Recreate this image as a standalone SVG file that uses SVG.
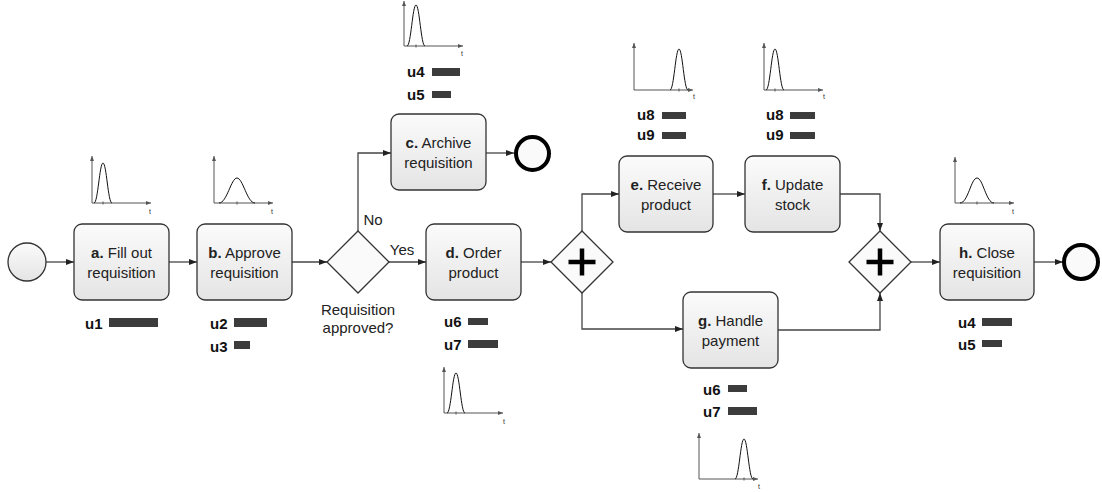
<svg xmlns="http://www.w3.org/2000/svg" width="1102" height="493" viewBox="0 0 1102 493">
<defs>
<linearGradient id="tg" x1="0" y1="0" x2="0" y2="1">
<stop offset="0" stop-color="#fbfbfb"/>
<stop offset="1" stop-color="#e4e4e4"/>
</linearGradient>
<marker id="arr" markerUnits="userSpaceOnUse" markerWidth="8" markerHeight="8" refX="8" refY="4" orient="auto">
<path d="M0,1 L8,4 L0,7 z" fill="#222"/>
</marker>
<marker id="am" markerUnits="userSpaceOnUse" markerWidth="5" markerHeight="5" refX="5" refY="2.5" orient="auto">
<path d="M0,0.5 L5,2.5 L0,4.5 z" fill="#555"/>
</marker>
</defs>
<style>
.task{fill:url(#tg);stroke:#333;stroke-width:1.3}
.gw{fill:#fafafa;stroke:#333;stroke-width:1.3}
.start{fill:url(#tg);stroke:#333;stroke-width:1.3}
.end{fill:#fafafa;stroke:#000;stroke-width:4}
.plus{stroke:#000;stroke-width:4.5}
.flow{fill:none;stroke:#444;stroke-width:1.3}
.lbl{font-family:"Liberation Sans",Arial,sans-serif;font-size:15px;fill:#222;text-anchor:middle}
.b{font-weight:bold}
.u{font-family:"Liberation Sans",Arial,sans-serif;font-size:15px;font-weight:bold;fill:#111}
.bar{fill:#3c3c3c}
.ax{stroke:#555;stroke-width:1;fill:none}
.cv{stroke:#111;stroke-width:1;fill:none}
.tk{stroke:#555;stroke-width:1}
.t{font-family:"Liberation Sans",Arial,sans-serif;font-size:7px;fill:#333}
</style>

<g id="connectors">
<path class="flow" d="M46,262 H74" marker-end="url(#arr)"/>
<path class="flow" d="M169,262 H197" marker-end="url(#arr)"/>
<path class="flow" d="M292,262 H327" marker-end="url(#arr)"/>
<path class="flow" d="M358,231 V153 H391" marker-end="url(#arr)"/>
<path class="flow" d="M389,262 H426" marker-end="url(#arr)"/>
<path class="flow" d="M486,153 H514" marker-end="url(#arr)"/>
<path class="flow" d="M521,262 H551" marker-end="url(#arr)"/>
<path class="flow" d="M582,231 V194 H619" marker-end="url(#arr)"/>
<path class="flow" d="M582,293 V329 H683" marker-end="url(#arr)"/>
<path class="flow" d="M713,194 H745" marker-end="url(#arr)"/>
<path class="flow" d="M840,194 H880 V231" marker-end="url(#arr)"/>
<path class="flow" d="M777,330 H880 V293" marker-end="url(#arr)"/>
<path class="flow" d="M911,262 H940" marker-end="url(#arr)"/>
<path class="flow" d="M1034,262 H1063" marker-end="url(#arr)"/>
<text class="lbl" x="373" y="225">No</text>
<text class="lbl" x="402" y="255">Yes</text>
</g>

<g id="start">
<circle class="start" cx="27" cy="262" r="19"/>
</g>

<g id="task-a">
<rect class="task" x="74" y="224" width="95" height="76" rx="8"/>
<text class="lbl" x="121.5" y="258"><tspan class="b">a.</tspan> Fill out</text>
<text class="lbl" x="121.5" y="278">requisition</text>
<text class="u" x="85" y="329">u1</text>
<rect class="bar" x="109" y="318" width="49" height="9"/>
<g transform="translate(92,203)">
<path class="ax" d="M0,0 V-47" marker-end="url(#am)"/>
<path class="ax" d="M0,0 H59" marker-end="url(#am)"/>
<path class="tk" d="M11,-1.5 V1.5"/>
<path class="cv" d="M2,0 C6,0 7.5,-40 11,-40 C14.5,-40 16,0 20,0"/>
<text class="t" x="57" y="11">t</text>
</g>
</g>

<g id="task-b">
<rect class="task" x="197" y="224" width="95" height="76" rx="8"/>
<text class="lbl" x="244.5" y="258"><tspan class="b">b.</tspan> Approve</text>
<text class="lbl" x="244.5" y="278">requisition</text>
<text class="u" x="210" y="329">u2</text>
<rect class="bar" x="234" y="318" width="33" height="9"/>
<text class="u" x="210" y="352">u3</text>
<rect class="bar" x="234" y="341" width="16" height="8"/>
<g transform="translate(214,203)">
<path class="ax" d="M0,0 V-47" marker-end="url(#am)"/>
<path class="ax" d="M0,0 H59" marker-end="url(#am)"/>
<path class="tk" d="M23,-1.5 V1.5"/>
<path class="cv" d="M5,0 C13,0 17,-25 23,-25 C29,-25 33,0 41,0"/>
<text class="t" x="57" y="11">t</text>
</g>
</g>

<g id="gateway-approved">
<path class="gw" d="M358,231 L389,262 L358,293 L327,262 Z"/>
<text class="lbl" x="358" y="315">Requisition</text>
<text class="lbl" x="358" y="333">approved?</text>
</g>

<g id="task-c">
<rect class="task" x="391" y="114" width="95" height="76" rx="8"/>
<text class="lbl" x="438.5" y="148"><tspan class="b">c.</tspan> Archive</text>
<text class="lbl" x="438.5" y="168">requisition</text>
<text class="u" x="407" y="77">u4</text>
<rect class="bar" x="432" y="68" width="28" height="8"/>
<text class="u" x="407" y="100">u5</text>
<rect class="bar" x="432" y="91" width="19" height="7"/>
<g transform="translate(404,46)">
<path class="ax" d="M0,0 V-45" marker-end="url(#am)"/>
<path class="ax" d="M0,0 H59" marker-end="url(#am)"/>
<path class="tk" d="M12,-1.5 V1.5"/>
<path class="cv" d="M3,0 C7,0 8.5,-41 12,-41 C15.5,-41 17,0 21,0"/>
<text class="t" x="57" y="10">t</text>
</g>
</g>

<g id="end-c">
<circle class="end" cx="532.5" cy="153.5" r="16.5"/>
</g>

<g id="task-d">
<rect class="task" x="426" y="224" width="95" height="76" rx="8"/>
<text class="lbl" x="473.5" y="258"><tspan class="b">d.</tspan> Order</text>
<text class="lbl" x="473.5" y="278">product</text>
<text class="u" x="444" y="327">u6</text>
<rect class="bar" x="468" y="318" width="20" height="7"/>
<text class="u" x="444" y="350">u7</text>
<rect class="bar" x="468" y="340" width="30" height="8"/>
<g transform="translate(444,413)">
<path class="ax" d="M0,0 V-46" marker-end="url(#am)"/>
<path class="ax" d="M0,0 H59" marker-end="url(#am)"/>
<path class="tk" d="M12,-1.5 V1.5"/>
<path class="cv" d="M3,0 C7,0 8.5,-40 12,-40 C15.5,-40 17,0 21,0"/>
<text class="t" x="59" y="11">t</text>
</g>
</g>

<g id="gateway-split">
<path class="gw" d="M582,231 L613,262 L582,293 L551,262 Z"/>
<path class="plus" d="M568.5,262 H595.5 M582,248.5 V275.5"/>
</g>

<g id="task-e">
<rect class="task" x="619" y="156" width="94" height="76" rx="8"/>
<text class="lbl" x="666" y="190"><tspan class="b">e.</tspan> Receive</text>
<text class="lbl" x="666" y="210">product</text>
<text class="u" x="637" y="120">u8</text>
<rect class="bar" x="662" y="112" width="24" height="7"/>
<text class="u" x="637" y="140">u9</text>
<rect class="bar" x="662" y="132" width="24" height="7"/>
<g transform="translate(634,90)">
<path class="ax" d="M0,0 V-47" marker-end="url(#am)"/>
<path class="ax" d="M0,0 H59" marker-end="url(#am)"/>
<path class="tk" d="M45,-1.5 V1.5"/>
<path class="cv" d="M36,0 C40,0 41.5,-41 45,-41 C48.5,-41 50,0 54,0"/>
<text class="t" x="59" y="9">t</text>
</g>
</g>

<g id="task-f">
<rect class="task" x="745" y="156" width="95" height="76" rx="8"/>
<text class="lbl" x="792.5" y="190"><tspan class="b">f.</tspan> Update</text>
<text class="lbl" x="792.5" y="210">stock</text>
<text class="u" x="766" y="120">u8</text>
<rect class="bar" x="790" y="112" width="25" height="7"/>
<text class="u" x="766" y="140">u9</text>
<rect class="bar" x="790" y="132" width="25" height="7"/>
<g transform="translate(764,90)">
<path class="ax" d="M0,0 V-47" marker-end="url(#am)"/>
<path class="ax" d="M0,0 H59" marker-end="url(#am)"/>
<path class="tk" d="M11,-1.5 V1.5"/>
<path class="cv" d="M2,0 C6,0 7.5,-41 11,-41 C14.5,-41 16,0 20,0"/>
<text class="t" x="59" y="9">t</text>
</g>
</g>

<g id="task-g">
<rect class="task" x="683" y="292" width="95" height="76" rx="8"/>
<text class="lbl" x="730.5" y="326"><tspan class="b">g.</tspan> Handle</text>
<text class="lbl" x="730.5" y="346">payment</text>
<text class="u" x="703" y="395">u6</text>
<rect class="bar" x="728" y="385" width="19" height="7"/>
<text class="u" x="703" y="417">u7</text>
<rect class="bar" x="728" y="407" width="29" height="8"/>
<g transform="translate(699,479)">
<path class="ax" d="M0,0 V-46" marker-end="url(#am)"/>
<path class="ax" d="M0,0 H59" marker-end="url(#am)"/>
<path class="tk" d="M45,-1.5 V1.5"/>
<path class="cv" d="M36,0 C40,0 41.5,-40 45,-40 C48.5,-40 50,0 54,0"/>
<text class="t" x="59" y="10">t</text>
</g>
</g>

<g id="gateway-join">
<path class="gw" d="M880,231 L911,262 L880,293 L849,262 Z"/>
<path class="plus" d="M866.5,262 H893.5 M880,248.5 V275.5"/>
</g>

<g id="task-h">
<rect class="task" x="940" y="224" width="94" height="76" rx="8"/>
<text class="lbl" x="987" y="258"><tspan class="b">h.</tspan> Close</text>
<text class="lbl" x="987" y="278">requisition</text>
<text class="u" x="958" y="328">u4</text>
<rect class="bar" x="982" y="318" width="30" height="8"/>
<text class="u" x="958" y="350">u5</text>
<rect class="bar" x="982" y="340" width="20" height="7"/>
<g transform="translate(955,203)">
<path class="ax" d="M0,0 V-46" marker-end="url(#am)"/>
<path class="ax" d="M0,0 H59" marker-end="url(#am)"/>
<path class="tk" d="M22,-1.5 V1.5"/>
<path class="cv" d="M5,0 C13,0 16,-25 22,-25 C28,-25 31,0 39,0"/>
<text class="t" x="57" y="11">t</text>
</g>
</g>

<g id="end-h">
<circle class="end" cx="1081" cy="262" r="17"/>
</g>
</svg>
